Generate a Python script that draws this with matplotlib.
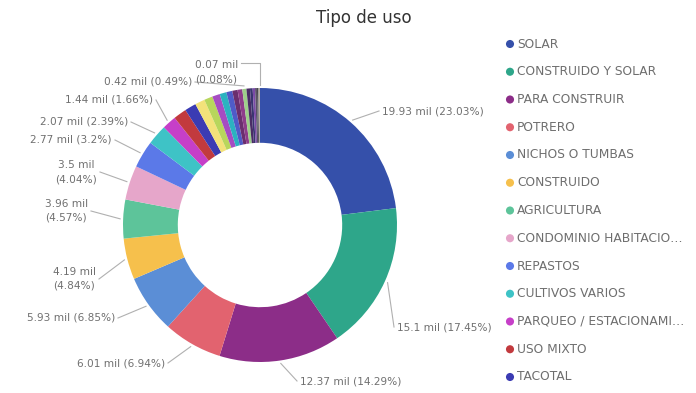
import matplotlib
matplotlib.use("Agg")
import matplotlib.pyplot as plt
import numpy as np

# ---------------- data ----------------
categories = ["SOLAR", "CONSTRUIDO Y SOLAR", "PARA CONSTRUIR", "POTRERO",
              "NICHOS O TUMBAS", "CONSTRUIDO", "AGRICULTURA",
              "CONDOMINIO HABITACIO…", "REPASTOS", "CULTIVOS VARIOS",
              "PARQUEO / ESTACIONAMI…", "USO MIXTO", "TACOTAL"]
values_mil = [19.93, 15.1, 12.37, 6.01, 5.93, 4.19, 3.96, 3.5, 2.77, 2.07,
              1.44, 1.34, 1.17]
# remaining small categories (not shown in the visible legend)
other_values_mil = [1.0, 0.87, 0.78, 0.69, 0.61, 0.54, 0.48, 0.42, 0.36,
                    0.27, 0.24, 0.19, 0.14, 0.10, 0.07]
# displayed percentages for labelled slices (index -> pct)
label_pct = {0: 23.03, 1: 17.45, 2: 14.29, 3: 6.94, 4: 6.85, 5: 4.84,
             6: 4.57, 7: 4.04, 8: 3.2, 9: 2.39, 10: 1.66, 20: 0.49, 27: 0.08}

colors = ["#3550AA", "#2EA68A", "#8C2D88", "#E2636F", "#5B8ED6", "#F6C04C",
          "#5DC49A", "#E6A6CA", "#5B79E8", "#3EC3C6", "#C63FC8", "#C23A3E",
          "#3B3BB3"]
other_colors = ["#F3E27A", "#B8D65C", "#A64CC2", "#2BB2C0", "#4F5BC8",
                "#6B2E6E", "#8E3C8A", "#9ECF8A", "#4A2C66", "#3A3470",
                "#7A4AA8", "#5A4F6A", "#4A4A4A", "#8C8C8C", "#A89C8C"]

all_values = values_mil + other_values_mil
all_colors = colors + other_colors

W, H = 696, 393
fig = plt.figure(figsize=(W / 100, H / 100), dpi=100)
ax = fig.add_axes([0, 0, 1, 1])

cx, cy, R = 260, H - 225, 137
wedges, _ = ax.pie(all_values, colors=all_colors, startangle=90,
                   counterclock=False, radius=R, center=(cx, cy),
                   wedgeprops=dict(width=R * 0.4, edgecolor="none"),
                   frame=True)
ax.set_xlim(0, W)
ax.set_ylim(0, H)
ax.set_aspect("equal")
ax.axis("off")

txt_col = "#707070"
line_col = "#B0B0B0"

# label layout (image pixel coords): text anchor x, y, ha, two-line
label_layout = {
    0: (382, 111, "left", False),
    1: (397, 327, "left", False),
    2: (300, 381, "left", False),
    3: (165, 363, "right", False),
    4: (115, 318, "right", False),
    5: (96, 279, "right", True),
    6: (88, 211, "right", True),
    7: (97, 172, "right", True),
    8: (112, 140, "right", False),
    9: (128, 122, "right", False),
    10: (153, 100, "right", False),
    20: (192, 82, "right", False),
    27: (238, 72, "right", True),
}


def fmt(v):
    return f"{v:g}"


FS = 7.6
for idx, (tx, ty, ha, two) in label_layout.items():
    w = wedges[idx]
    mid = np.deg2rad((w.theta1 + w.theta2) / 2)
    ax_, ay_ = cx + (R + 3) * np.cos(mid), cy + (R + 3) * np.sin(mid)
    ty_d = H - ty
    v = all_values[idx]
    p = label_pct[idx]
    if two:
        s = f"{fmt(v)} mil\n({fmt(p)}%)"
    else:
        s = f"{fmt(v)} mil ({fmt(p)}%)"
    if idx == 27:
        ax.plot([ax_, ax_, tx + 3], [ay_, H - 63, H - 63], color=line_col, lw=0.8)
        ax.text(tx, ty_d, s, ha=ha, va="center", fontsize=FS, color=txt_col,
                linespacing=1.5, multialignment="center")
        continue
    ex = tx - 3 if ha == "left" else tx + 3
    ax.plot([ax_, ex], [ay_, ty_d], color=line_col, lw=0.8)
    ax.text(tx, ty_d, s, ha=ha, va="center", fontsize=FS, color=txt_col,
            linespacing=1.5, multialignment="center")

# title
ax.text(364, H - 18, "Tipo de uso", ha="center", va="center", fontsize=12,
        color="#333333")

# legend
ly0, ldy = 44, 27.75
for i, (name, col) in enumerate(zip(categories, colors)):
    y = H - (ly0 + i * ldy)
    ax.scatter([510], [y], s=34, color=col, edgecolors="none")
    ax.text(517, y, name, ha="left", va="center", fontsize=8.8, color="#6E6E6E")

fig.savefig("out.png", dpi=100)
